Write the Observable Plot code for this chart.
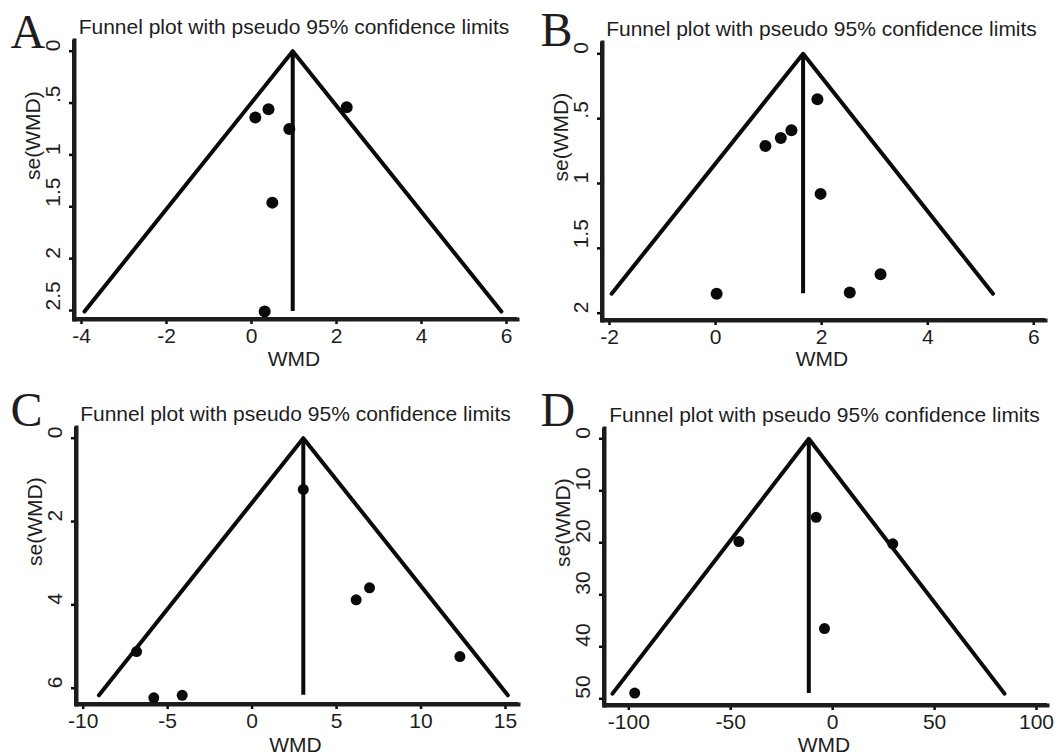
<!DOCTYPE html>
<html>
<head>
<meta charset="utf-8">
<script src="https://cdn.jsdelivr.net/npm/d3@7"></script>
<script src="https://cdn.jsdelivr.net/npm/@observablehq/plot@0.6"></script>
<style>
  html, body { margin: 0; padding: 0; background: #fff; }
  #wrap { position: relative; width: 1061px; height: 756px; background: #fff; overflow: hidden; }
  #wrap svg { position: absolute; }
</style>
</head>
<body>
<div id="wrap"></div>
<script>
// ---------- data ----------
const panelLetters = ["A", "B", "C", "D"];
const titleText = "Funnel plot with pseudo 95% confidence limits";
const xLabel = "WMD";
const yLabel = "se(WMD)";

// Panel A
const wmdA = [0.09, 0.40, 0.89, 2.24, 0.49, 0.31];
const seA  = [0.64, 0.56, 0.75, 0.54, 1.46, 2.51];
const funnelWmdA = [-3.93, 0.97, 5.88];
const funnelSeA  = [2.51, 0, 2.51];
const xTicksA = [-4, -2, 0, 2, 4, 6];
const xTickLabelsA = ["-4", "-2", "0", "2", "4", "6"];
const yTicksA = [0, 0.5, 1, 1.5, 2, 2.5];
const yTickLabelsA = ["0", ".5", "1", "1.5", "2", "2.5"];

// Panel B
const wmdB = [1.92, 1.43, 1.23, 0.94, 1.98, 0.02, 2.53, 3.11];
const seB  = [0.35, 0.59, 0.65, 0.71, 1.08, 1.85, 1.84, 1.70];
const funnelWmdB = [-1.96, 1.65, 5.23];
const funnelSeB  = [1.85, 0, 1.85];
const xTicksB = [-2, 0, 2, 4, 6];
const xTickLabelsB = ["-2", "0", "2", "4", "6"];
const yTicksB = [0, 0.5, 1, 1.5, 2];
const yTickLabelsB = ["0", ".5", "1", "1.5", "2"];

// Panel C
const wmdC = [3.03, 6.95, 6.16, -6.84, 12.30, -4.14, -5.82];
const seC  = [1.23, 3.59, 3.88, 5.12, 5.24, 6.17, 6.23];
const funnelWmdC = [-9.07, 3.03, 15.14];
const funnelSeC  = [6.17, 0, 6.17];
const xTicksC = [-10, -5, 0, 5, 10, 15];
const xTickLabelsC = ["-10", "-5", "0", "5", "10", "15"];
const yTicksC = [0, 2, 4, 6];
const yTickLabelsC = ["0", "2", "4", "6"];

// Panel D
const wmdD = [-8.1, -46.0, 29.5, -4.0, -97.1];
const seD  = [15.1, 19.75, 20.2, 36.5, 48.9];
const funnelWmdD = [-108.0, -11.7, 84.3];
const funnelSeD  = [49.0, 0, 49.0];
const xTicksD = [-100, -50, 0, 50, 100];
const xTickLabelsD = ["-100", "-50", "0", "50", "100"];
const yTicksD = [0, 10, 20, 30, 40, 50];
const yTickLabelsD = ["0", "10", "20", "30", "40", "50"];

// ---------- layout (pixels) ----------
const layouts = [
  {left: 0,   top: 0,   width: 530, height: 370, m: [40, 13, 51, 74], xr: [81, 506],   yr: [50.7, 310],   r: 6,
   letter: [-64, 7], title: [-2, -6.5], xl: [-2, 46]},
  {left: 530, top: 0,   width: 531, height: 370, m: [42, 16, 50, 72], xr: [79, 503.3], yr: [53.3, 312.7], r: 6,
   letter: [-62, 3], title: [-2.5, -7], xl: [-2, 45]},
  {left: 0,   top: 370, width: 530, height: 386, m: [57, 12, 52, 76], xr: [82.7, 505], yr: [67.7, 317.7], r: 5.5,
   letter: [-66, -2], title: [-2, -7], xl: [-2, 47]},
  {left: 530, top: 370, width: 531, height: 386, m: [58, 14, 51, 74], xr: [98.3, 506], yr: [68.3, 328.3], r: 5.5,
   letter: [-64, -3], title: [-1.5, -7], xl: [-2, 46]}
];

const panels = [
  {wmd: wmdA, se: seA, fx: funnelWmdA, fy: funnelSeA, xt: xTicksA, xtl: xTickLabelsA, yt: yTicksA, ytl: yTickLabelsA},
  {wmd: wmdB, se: seB, fx: funnelWmdB, fy: funnelSeB, xt: xTicksB, xtl: xTickLabelsB, yt: yTicksB, ytl: yTickLabelsB},
  {wmd: wmdC, se: seC, fx: funnelWmdC, fy: funnelSeC, xt: xTicksC, xtl: xTickLabelsC, yt: yTicksC, ytl: yTickLabelsC},
  {wmd: wmdD, se: seD, fx: funnelWmdD, fy: funnelSeD, xt: xTicksD, xtl: xTickLabelsD, yt: yTicksD, ytl: yTickLabelsD}
];

const SANS = "'Liberation Sans', Arial, sans-serif";
const SERIF = "'Liberation Serif', 'Times New Roman', serif";
const INK = "#1e1e1e";
const LINE = "#0a0a0a";
const AXIS = "#1c1c1c";

const wrap = document.getElementById("wrap");

panels.forEach((p, k) => {
  const L = layouts[k];
  const pts = p.wmd.map((w, i) => ({wmd: w, se: p.se[i]}));
  const funnel = p.fx.map((w, i) => ({wmd: w, se: p.fy[i]}));
  const pooled = p.fx[1];
  const seMax = d3.max(p.fy);
  const xMin = p.xt[0], xMax = p.xt[p.xt.length - 1];
  const yMin = p.yt[0], yMax = p.yt[p.yt.length - 1];
  const xFmt = d => p.xtl[p.xt.indexOf(d)];
  const yLab = p.yt.map((v, i) => ({v, label: p.ytl[i]}));
  const frameW = L.width - L.m[1] - L.m[3];
  const frameH = L.height - L.m[0] - L.m[2];

  const chart = Plot.plot({
    width: L.width,
    height: L.height,
    marginTop: L.m[0], marginRight: L.m[1], marginBottom: L.m[2], marginLeft: L.m[3],
    x: {domain: [xMin, xMax], range: L.xr, axis: null},
    y: {domain: [yMin, yMax], range: L.yr, axis: null},
    style: {fontFamily: SANS, fontSize: "21px", background: "#fff", color: INK},
    marks: [
      // axis bars: 4px filled strips along the left and bottom edges of the frame
      Plot.rect([0], {fill: AXIS, insetLeft: -2, insetRight: frameW - 2, insetTop: 0, insetBottom: -2}),
      Plot.rect([0], {fill: AXIS, insetLeft: -2, insetRight: 0, insetTop: frameH - 2, insetBottom: -2}),
      Plot.line(funnel, {x: "wmd", y: "se", stroke: LINE, strokeWidth: 4}),
      Plot.ruleX([pooled], {x: d => d, y1: 0, y2: seMax, stroke: LINE, strokeWidth: 4}),
      Plot.dot(pts, {x: "wmd", y: "se", r: L.r, fill: LINE}),
      Plot.axisX({ticks: p.xt, tickFormat: xFmt, tickSize: 5, tickPadding: 4, fontSize: 21,
        stroke: LINE, strokeWidth: 2.5, label: null}),
      Plot.axisY({ticks: p.yt, tickFormat: () => null, tickSize: 5, stroke: LINE, strokeWidth: 2.5, label: null}),
      Plot.text(yLab, {y: "v", text: "label", frameAnchor: "left", dx: -21, rotate: -90, lineAnchor: "middle",
        fontSize: 21}),
      Plot.text([xLabel], {text: d => d, frameAnchor: "bottom", dx: L.xl[0], dy: L.xl[1], lineAnchor: "bottom",
        fontSize: 21}),
      Plot.text([yLabel], {text: d => d, frameAnchor: "left", dx: -41, rotate: -90, lineAnchor: "middle",
        fontSize: 21}),
      Plot.text([titleText], {text: d => d, frameAnchor: "top", dx: L.title[0], dy: L.title[1], lineAnchor: "bottom",
        fontSize: 21}),
      Plot.text([panelLetters[k]], {text: d => d, frameAnchor: "top-left", dx: L.letter[0], dy: L.letter[1],
        textAnchor: "start", lineAnchor: "bottom", fontSize: 48, fontFamily: SERIF}),
      Plot.frame({anchor: "left", stroke: AXIS, strokeWidth: 4}),
      Plot.frame({anchor: "bottom", stroke: AXIS, strokeWidth: 4})
    ]
  });
  chart.style.left = L.left + "px";
  chart.style.top = L.top + "px";
  wrap.appendChild(chart);
});
</script>
</body>
</html>
